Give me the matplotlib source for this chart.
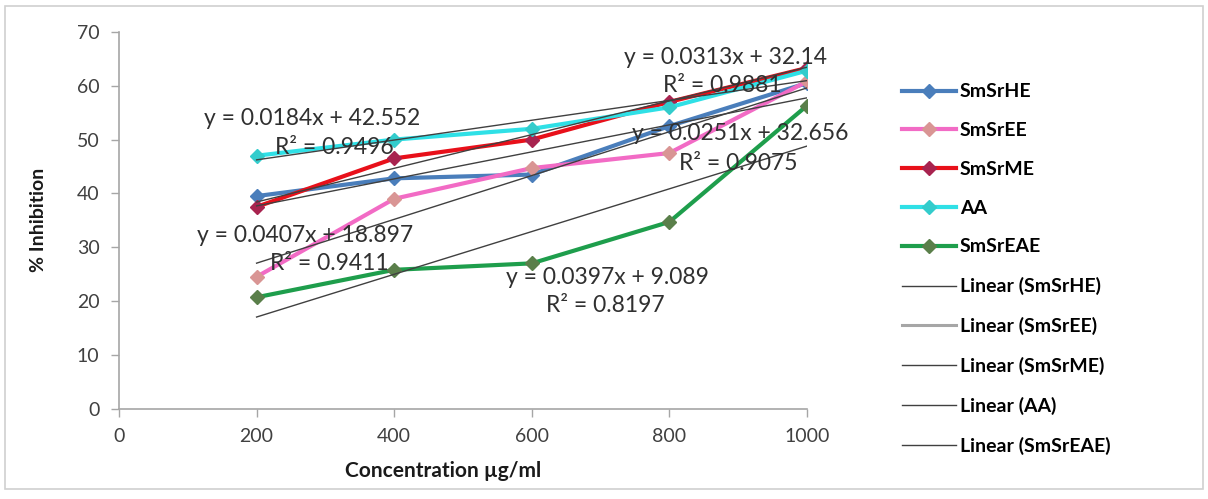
"""
% inhibition vs concentration for the SmSr extracts, with linear trendlines
(Excel-style chart recreation).

Output: out.png
"""
import numpy as np
import matplotlib
matplotlib.use('Agg')
import matplotlib.pyplot as plt
from matplotlib.patches import Rectangle

# ─── Data ────────────────────────────────────────────────────────────────────
conc = [200, 400, 600, 800, 1000]

smsr_he  = [39.5, 42.8, 43.5, 52.5, 60.5]
smsr_ee  = [24.5, 39.0, 44.7, 47.5, 60.8]
smsr_me  = [37.5, 46.5, 50.0, 57.0, 63.3]
aa       = [47.0, 50.0, 52.0, 56.0, 62.8]
smsr_eae = [20.7, 25.8, 27.0, 34.7, 56.3]

series_names = ['SmSrHE', 'SmSrEE', 'SmSrME', 'AA', 'SmSrEAE']
series_vals  = [smsr_he, smsr_ee, smsr_me, aa, smsr_eae]

# trendline equations as printed on the chart: (slope, intercept, R²)
trend_slope     = [0.0251, 0.0407, 0.0313, 0.0184, 0.0397]
trend_intercept = [32.656, 18.897, 32.14, 42.552, 9.089]
trend_r2        = ['0.9075', '0.9411', '0.9881', '0.9496', '0.8197']
trend_labels    = ['y = 0.0251x + 32.656', 'y = 0.0407x + 18.897',
                   'y = 0.0313x + 32.14', 'y = 0.0184x + 42.552',
                   'y = 0.0397x + 9.089']

# ─── Styles ──────────────────────────────────────────────────────────────────
LINE_COLORS   = ['#4A7EBB', '#F26BC5', '#E8101A', '#2FE0E6', '#1E9E4C']
MARKER_COLORS = ['#4A7EBB', '#D99594', '#A8234F', '#33CCCC', '#5A7F4A']
TREND_COLORS  = ['#404040', '#A6A6A6', '#404040', '#404040', '#404040']
# where each equation / R² label sits (data coords, centre)
EQ_POS = [(903, 51.2), (270, 32.2), (881, 65.3), (281, 54.0), (710, 24.4)]
R2_POS = [(900, 45.6), (305, 27.0), (877, 60.1), (313, 48.6), (707, 19.2)]

FONT = 'Lato'
AXIS_GRAY = '#A6A6A6'
TEXT_COLOR = '#404040'

plt.rcParams['font.family'] = [FONT, 'DejaVu Sans']

fig = plt.figure(figsize=(12.08, 4.99), dpi=100)
fig.patch.set_facecolor('white')
ax = fig.add_axes([0.0985, 0.181, 0.5695, 0.755])

handles = []
for name, vals, lc, mc in zip(series_names, series_vals, LINE_COLORS, MARKER_COLORS):
    h, = ax.plot(conc, vals, color=lc, lw=3, marker='D', ms=7,
                 mfc=mc, mec=mc, zorder=3, label=name)
    handles.append(h)

x_fit = np.array([conc[0], conc[-1]])
for name, m, b, tc in zip(series_names, trend_slope, trend_intercept, TREND_COLORS):
    h, = ax.plot(x_fit, m * x_fit + b, color='#404040', lw=1.0, zorder=4,
                 label=f'Linear ({name})')
    # legend shows the EE trendline lighter/thicker, as in Excel
    if tc != '#404040':
        hl, = ax.plot([], [], color=tc, lw=2.2, label=f'Linear ({name})')
        handles.append(hl)
    else:
        handles.append(h)

for eq, r2, (ex, ey), (rx, ry) in zip(trend_labels, trend_r2, EQ_POS, R2_POS):
    ax.text(ex, ey, eq, ha='center', va='center', fontsize=16.5,
            color='#303030', zorder=5)
    ax.text(rx, ry, f'R² = {r2}', ha='center', va='center', fontsize=16.5,
            color='#303030', zorder=5)

ax.set_xlim(0, 1000)
ax.set_ylim(0, 70)
ax.set_xticks(range(0, 1001, 200))
ax.set_yticks(range(0, 71, 10))
ax.tick_params(axis='both', direction='out', length=6, width=1,
               color=AXIS_GRAY, labelsize=14, labelcolor=TEXT_COLOR, pad=8)
for sp in ['top', 'right']:
    ax.spines[sp].set_visible(False)
for sp in ['left', 'bottom']:
    ax.spines[sp].set_color(AXIS_GRAY)
    ax.spines[sp].set_linewidth(1.2)

ax.set_xlabel('Concentration µg/ml', fontsize=15, fontweight='bold',
              color='#1A1A1A')
ax.xaxis.set_label_coords(0.471, -0.138)
ax.set_ylabel('% Inhibition', fontsize=14, fontweight='bold',
              color='#1A1A1A')
ax.yaxis.set_label_coords(-0.105, 0.5)

fig.legend(handles=handles, loc='upper left',
           bbox_to_anchor=(0.7318, 0.868), frameon=False,
           handlelength=2.8, handletextpad=0.2, labelspacing=1.12,
           prop={'family': [FONT], 'weight': 'bold', 'size': 14})

# light outer chart border
fig.patches.append(Rectangle((0.004, 0.02), 0.992, 0.968, transform=fig.transFigure,
                             fill=False, edgecolor='#D0D0D0', lw=1.2))

plt.savefig('out.png', dpi=100, facecolor='white')
plt.close()
